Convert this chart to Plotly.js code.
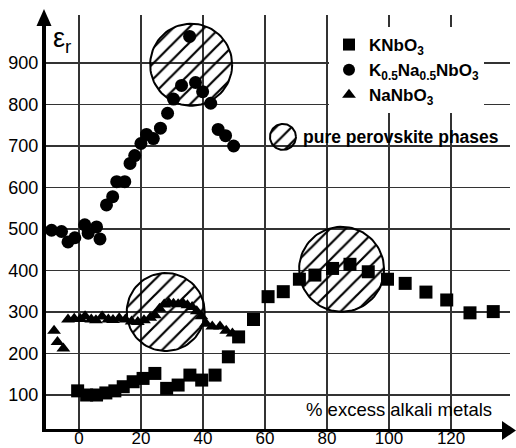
<!DOCTYPE html>
<html>
<head>
<meta charset="utf-8">
<script src="https://cdn.plot.ly/plotly-3.0.1.min.js"></script>
<style>html,body{margin:0;padding:0;background:#fff;}#chart{width:516px;height:448px;}</style>
</head>
<body>
<div id="chart"></div>
<script>
// ---- data ----
const knbo3X = [-0.4, 2.5, 5.7, 8.7, 11.6, 14.3, 17.5, 20.7, 24.5, 28.3, 32.0, 35.8, 39.6, 43.9, 48.2, 51.5, 56.3, 61.0, 65.9, 71.1, 76.1, 81.8, 87.4, 93.3, 99.5, 105.2, 111.9, 118.6, 126.1, 133.6];
const knbo3Y = [110, 100, 100, 105, 110, 120, 132, 140, 152, 116, 124, 148, 136, 148, 192, 240, 282, 337, 349, 379, 389, 405, 415, 397, 379, 369, 348, 329, 298, 301];

const knnX = [-8.8, -5.6, -3.5, -1.3, 1.9, 3.0, 5.7, 6.8, 8.9, 10.9, 12.2, 14.8, 16.5, 18.0, 20.0, 21.8, 24.0, 26.3, 28.6, 30.5, 33.1, 35.7, 37.6, 39.9, 42.5, 44.9, 47.3, 49.9];
const knnY = [497, 494, 469, 479, 510, 490, 505, 476, 558, 578, 614, 614, 658, 677, 706, 728, 718, 743, 779, 813, 846, 964, 853, 831, 803, 740, 725, 700];

const nanbo3X = [-8.0, -6.9, -5.0, -3.5, -1.5, 0.5, 2.0, 4.0, 5.5, 7.5, 9.5, 11.0, 13.0, 15.0, 17.0, 19.0, 21.0, 23.0, 24.5, 26.0, 27.5, 29.0, 30.5, 32.0, 33.5, 35.0, 36.5, 38.0, 39.5, 41.0, 43.0, 45.5, 47.5, 49.5];
const nanbo3Y = [255, 228, 212, 282, 284, 283, 290, 282, 280, 289, 282, 281, 285, 282, 277, 276, 280, 286, 292, 308, 318, 322, 320, 319, 322, 316, 312, 302, 290, 272, 265, 265, 255, 248];

const seriesNames = ['KNbO<sub>3</sub>', 'K<sub>0.5</sub>Na<sub>0.5</sub>NbO<sub>3</sub>', 'NaNbO<sub>3</sub>'];
const xTicks = [0, 20, 40, 60, 80, 100, 120];
const yTicks = [100, 200, 300, 400, 500, 600, 700, 800, 900];

// hatched "pure perovskite phase" regions: centre (data) and radius (px)
const zoneX = [36.2, 28.0, 84.7, 65.8];
const zoneY = [896, 300, 403, 722];
const zoneR = [41, 39, 42.5, 13];

// ---- layout geometry ----
const M = {l: 46, r: 6, t: 15, b: 19};
const xRange = [-10.6, 139.0];
const yRange = [18.1, 1015.7];
const W = 516 - M.l - M.r, H = 448 - M.t - M.b;
const pxX = W / (xRange[1] - xRange[0]);
const pxY = H / (yRange[1] - yRange[0]);

const traces = [];
zoneX.forEach((cx, i) => {
  const xs = [], ys = [];
  for (let k = 0; k <= 90; k++) {
    const t = 2 * Math.PI * k / 90;
    xs.push(cx + zoneR[i] * Math.cos(t) / pxX);
    ys.push(zoneY[i] + zoneR[i] * Math.sin(t) / pxY);
  }
  traces.push({
    x: xs, y: ys, type: 'scatter', mode: 'lines', fill: 'toself',
    fillcolor: 'rgba(0,0,0,0)',
    fillpattern: {shape: '/', fgcolor: '#000', bgcolor: 'rgba(0,0,0,0)', size: 11, solidity: 0.2},
    line: {color: '#000', width: 2}, showlegend: false, hoverinfo: 'skip'
  });
});

traces.push({x: knbo3X, y: knbo3Y, name: seriesNames[0], type: 'scatter', mode: 'markers',
  marker: {symbol: 'square', size: 13, color: '#000', line: {width: 0}}});
traces.push({x: knnX, y: knnY, name: seriesNames[1], type: 'scatter', mode: 'markers',
  marker: {symbol: 'circle', size: 13, color: '#000', line: {width: 0}}});
traces.push({x: nanbo3X, y: nanbo3Y, name: seriesNames[2], type: 'scatter', mode: 'markers',
  marker: {symbol: 'triangle-up', size: 12, color: '#000', line: {width: 0}}});

const font = {family: 'Liberation Sans, Arial, sans-serif', color: '#000'};
const px2paperX = p => (p - M.l) / W;
const px2paperY = p => (448 - M.b - p) / H;

const layout = {
  width: 516, height: 448,
  margin: {l: M.l, r: M.r, t: M.t, b: M.b, pad: 0},
  paper_bgcolor: '#fff', plot_bgcolor: '#fff',
  font: Object.assign({size: 18}, font),
  showlegend: true,
  legend: {
    x: px2paperX(329), y: px2paperY(27), xanchor: 'left', yanchor: 'top',
    bgcolor: '#fff', borderwidth: 0,
    font: Object.assign({size: 17, weight: 'bold'}, font),
    itemsizing: 'constant', tracegroupgap: 0
  },
  xaxis: {
    range: xRange, tickvals: xTicks, ticktext: xTicks.map(String),
    showgrid: true, gridcolor: '#333', gridwidth: 1.4, zeroline: false,
    showline: true, linecolor: '#000', linewidth: 3, ticks: '', ticklen: 0,
    ticklabelstandoff: -8,
    tickfont: Object.assign({size: 17}, font), fixedrange: true
  },
  yaxis: {
    range: yRange, tickvals: yTicks, ticktext: yTicks.map(String),
    showgrid: true, gridcolor: '#333', gridwidth: 1.4, zeroline: false,
    showline: true, linecolor: '#000', linewidth: 4, ticks: '', ticklen: 0,
    tickfont: Object.assign({size: 18}, font), fixedrange: true
  },
  shapes: [
    // white masks behind the in-plot labels (above grid, below traces)
    {type: 'rect', layer: 'between', xref: 'paper', yref: 'paper',
     x0: px2paperX(268), x1: px2paperX(503), y0: px2paperY(152), y1: px2paperY(123),
     fillcolor: '#fff', line: {width: 0}},
    {type: 'rect', layer: 'between', xref: 'paper', yref: 'paper',
     x0: px2paperX(300), x1: px2paperX(511), y0: px2paperY(426), y1: px2paperY(392),
     fillcolor: '#fff', line: {width: 0}},
    // axis arrowheads
    {type: 'path', xref: 'paper', yref: 'paper', xsizemode: 'pixel', ysizemode: 'pixel',
     xanchor: 0, yanchor: 1, path: 'M-9.5,-11 L-2,6 L5.5,-11 Z', fillcolor: '#000', line: {width: 0}},
    {type: 'path', xref: 'paper', yref: 'paper', xsizemode: 'pixel', ysizemode: 'pixel',
     xanchor: 1, yanchor: 0, path: 'M-8,8 L6,-1.5 L-8,-11 Z', fillcolor: '#000', line: {width: 0}}
  ],
  annotations: [
    {text: 'ε<sub>r</sub>', xref: 'paper', yref: 'paper', x: px2paperX(51), y: px2paperY(40),
     xanchor: 'left', yanchor: 'middle', showarrow: false, font: Object.assign({size: 27}, font)},
    {text: '<b>pure perovskite phases</b>', xref: 'paper', yref: 'paper', x: px2paperX(301), y: px2paperY(137),
     xanchor: 'left', yanchor: 'middle', showarrow: false, font: Object.assign({size: 17.5}, font)},
    {text: '% excess alkali metals', xref: 'paper', yref: 'paper', x: px2paperX(304), y: px2paperY(409),
     xanchor: 'left', yanchor: 'middle', showarrow: false, font: Object.assign({size: 18.5}, font)}
  ]
};

Plotly.newPlot('chart', traces, layout, {staticPlot: true, displayModeBar: false});
</script>
</body>
</html>
